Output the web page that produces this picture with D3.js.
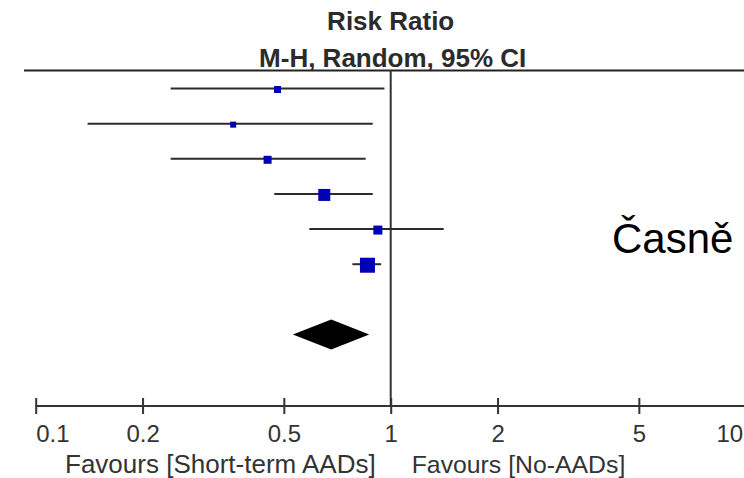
<!DOCTYPE html>
<html>
<head>
<meta charset="utf-8">
<script src="https://cdn.jsdelivr.net/npm/d3@7"></script>
<style>
  body { margin: 0; background: #fff; }
  svg { display: block; font-family: Arial, "Liberation Sans", sans-serif; }
</style>
</head>
<body>
<svg id="forest"></svg>
<script>
// Study rows: risk ratio estimate and 95% CI
const estimates = [0.48, 0.36, 0.45, 0.65, 0.92, 0.86];
const lowerCI   = [0.24, 0.14, 0.24, 0.47, 0.59, 0.78];
const upperCI   = [0.96, 0.89, 0.85, 0.89, 1.41, 0.94];
const weights   = [7, 6, 8, 12, 9, 15]; // study weight -> square size
const pooled = { est: 0.68, lo: 0.53, hi: 0.87 };
const tickValues = [0.1, 0.2, 0.5, 1, 2, 5, 10];

const width = 744, height = 478;
const axisY = 406;

const svg = d3.select("#forest")
    .attr("width", width)
    .attr("height", height);

// log scale for risk ratio
const x = d3.scaleLog()
    .domain([0.1, 10])
    .range([35.7, 745.7]);

// row positions (pooled diamond sits in row 7)
const y = d3.scaleLinear()
    .domain([0, 7])
    .range([88.5, 334.5]);

// header
svg.append("text")
    .attr("x", x(1))
    .attr("y", 30)
    .attr("text-anchor", "middle")
    .style("font-size", "26px")
    .style("font-weight", "bold")
    .style("fill", "#2b2b2b")
    .text("Risk Ratio");

svg.append("text")
    .attr("x", x(1) + 2)
    .attr("y", 67)
    .attr("text-anchor", "middle")
    .style("font-size", "26px")
    .style("font-weight", "bold")
    .style("fill", "#2b2b2b")
    .text("M-H, Random, 95% CI");

// top rule
svg.append("line")
    .attr("x1", 24).attr("x2", width)
    .attr("y1", 70.5).attr("y2", 70.5)
    .style("stroke", "#222")
    .style("stroke-width", 2);

// line of no effect
svg.append("line")
    .attr("x1", x(1)).attr("x2", x(1))
    .attr("y1", 70).attr("y2", axisY)
    .style("stroke", "#333")
    .style("stroke-width", 2);

// confidence interval lines
svg.selectAll(".ci")
    .data(estimates)
    .enter()
    .append("line")
    .attr("class", "ci")
    .attr("x1", (d, i) => x(lowerCI[i]))
    .attr("x2", (d, i) => x(upperCI[i]))
    .attr("y1", (d, i) => y(i))
    .attr("y2", (d, i) => y(i))
    .style("stroke", "#2b2b2b")
    .style("stroke-width", 2);

// weight squares
svg.selectAll(".est")
    .data(estimates)
    .enter()
    .append("rect")
    .attr("class", "est")
    .attr("x", (d, i) => x(d) - weights[i] / 2)
    .attr("y", (d, i) => y(i) - weights[i] / 2 + 1)
    .attr("width", (d, i) => weights[i])
    .attr("height", (d, i) => weights[i])
    .style("fill", "#0000b4");

// pooled diamond
const py = y(7);
svg.append("path")
    .attr("d", `M${x(pooled.lo)},${py} L${x(pooled.est)},${py - 15} L${x(pooled.hi)},${py} L${x(pooled.est)},${py + 15} Z`)
    .style("fill", "#000");

// axis
const axis = svg.append("g")
    .attr("transform", `translate(0,${axisY})`)
    .call(d3.axisBottom(x)
        .tickValues(tickValues)
        .tickFormat(d3.format("~g"))
        .tickSizeOuter(0));

axis.select(".domain").remove();
axis.append("line")
    .attr("x1", x(0.1)).attr("x2", width)
    .style("stroke", "#333")
    .style("stroke-width", 2);
axis.selectAll(".tick line")
    .attr("y1", -8).attr("y2", 8)
    .style("stroke", "#333")
    .style("stroke-width", 2);
axis.selectAll(".tick text")
    .attr("y", 36)
    .attr("dy", 0)
    .style("font-size", "24px")
    .style("font-family", "Arial, 'Liberation Sans', sans-serif")
    .style("fill", "#333")
    .attr("text-anchor", d => d === 0.1 ? "start" : d === 10 ? "end" : "middle")
    .attr("dx", d => d === 10 ? -3 : 0);

// favours labels
svg.append("text")
    .attr("x", x(1) - 15)
    .attr("y", 473)
    .attr("text-anchor", "end")
    .style("font-size", "26px")
    .style("fill", "#333")
    .text("Favours [Short-term AADs]");

svg.append("text")
    .attr("x", x(1) + 21)
    .attr("y", 473)
    .attr("text-anchor", "start")
    .style("font-size", "24.8px")
    .style("fill", "#333")
    .text("Favours [No-AADs]");

// side label
svg.append("text")
    .attr("x", 612)
    .attr("y", 253)
    .style("font-size", "42px")
    .style("fill", "#000")
    .text("Časně");
</script>
</body>
</html>
